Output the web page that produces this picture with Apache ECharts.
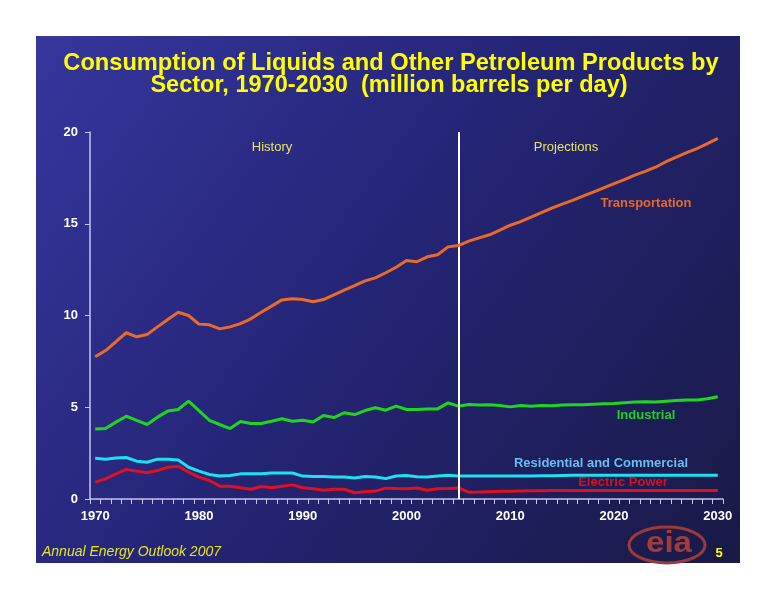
<!DOCTYPE html>
<html>
<head>
<meta charset="utf-8">
<script src="https://cdn.jsdelivr.net/npm/echarts@6/dist/echarts.min.js"></script>
<style>
html,body{margin:0;padding:0;background:#ffffff;}
#chart{width:776px;height:600px;}
</style>
</head>
<body>
<div id="chart"></div>
<script>
// ---- data ----
var years = [];
for (var y = 1970; y <= 2030; y++) years.push(String(y));

var transportation = [
  7.75, 8.09, 8.57, 9.06, 8.84, 8.96, 9.38, 9.78, 10.18, 10.0,
  9.53, 9.49, 9.27, 9.38, 9.56, 9.82, 10.18, 10.51, 10.85, 10.91,
  10.87, 10.75, 10.87, 11.13, 11.38, 11.63, 11.89, 12.05, 12.33, 12.63,
  13.0, 12.93, 13.2, 13.31, 13.74, 13.81, 14.05, 14.23, 14.4, 14.65,
  14.92, 15.12, 15.36, 15.6, 15.85, 16.07, 16.27, 16.5, 16.72, 16.96,
  17.19, 17.41, 17.65, 17.85, 18.08, 18.38, 18.63, 18.87, 19.1, 19.37,
  19.65
];
var industrial = [
  3.82, 3.84, 4.19, 4.51, 4.29, 4.06, 4.46, 4.79, 4.88, 5.33,
  4.82, 4.29, 4.06, 3.84, 4.22, 4.11, 4.11, 4.24, 4.37, 4.24,
  4.29, 4.2, 4.55, 4.44, 4.7, 4.6, 4.82, 4.97, 4.84, 5.06,
  4.88, 4.88, 4.9, 4.91, 5.24, 5.06, 5.15, 5.12, 5.13, 5.1,
  5.02, 5.1, 5.06, 5.1, 5.08, 5.12, 5.13, 5.13, 5.17, 5.19,
  5.2, 5.24, 5.28, 5.3, 5.28, 5.33, 5.37, 5.39, 5.4, 5.46,
  5.57
];
var residential = [
  2.22, 2.17, 2.24, 2.26, 2.06, 2.0, 2.17, 2.17, 2.13, 1.73,
  1.52, 1.34, 1.25, 1.28, 1.37, 1.37, 1.37, 1.42, 1.42, 1.42,
  1.25, 1.22, 1.22, 1.2, 1.2, 1.15, 1.22, 1.2, 1.11, 1.25,
  1.28, 1.21, 1.2, 1.25, 1.3, 1.26, 1.25, 1.25, 1.25, 1.25,
  1.25, 1.26, 1.26, 1.27, 1.27, 1.28, 1.29, 1.3, 1.3, 1.3,
  1.3, 1.3, 1.3, 1.3, 1.3, 1.3, 1.3, 1.3, 1.3, 1.3,
  1.3
];
var electric = [
  0.92, 1.1, 1.37, 1.61, 1.52, 1.43, 1.55, 1.73, 1.79, 1.46,
  1.19, 1.01, 0.7, 0.7, 0.61, 0.53, 0.68, 0.61, 0.7, 0.77,
  0.61, 0.56, 0.48, 0.53, 0.53, 0.34, 0.39, 0.43, 0.59, 0.57,
  0.56, 0.6, 0.48, 0.56, 0.57, 0.6, 0.37, 0.38, 0.4, 0.42,
  0.42, 0.44, 0.45, 0.45, 0.46, 0.46, 0.46, 0.46, 0.46, 0.46,
  0.46, 0.46, 0.46, 0.46, 0.46, 0.46, 0.46, 0.46, 0.46, 0.46,
  0.46
];
var yTicks = [0, 5, 10, 15, 20];
var divideYear = '2005';

var titleLine1 = 'Consumption of Liquids and Other Petroleum Products by';
var titleLine2 = 'Sector, 1970-2030  (million barrels per day)';

var chart = echarts.init(document.getElementById('chart'), null, {renderer: 'canvas'});

var lineStyle = function (c) { return {color: c, width: 3}; };
var FF = '"Liberation Sans", Arial, Helvetica, sans-serif';

chart.setOption({
  backgroundColor: '#ffffff',
  animation: false,
  graphic: [
    {
      type: 'rect', z: -10, silent: true,
      shape: {x: 36, y: 36, width: 704, height: 527},
      style: {
        fill: new echarts.graphic.LinearGradient(0, 0, 1, 1, [
          {offset: 0, color: '#36369e'},
          {offset: 0.45, color: '#252578'},
          {offset: 1, color: '#191946'}
        ])
      }
    },
    {
      type: 'text', x: 391, y: 63.5, scaleX: 0.985, z: 10,
      style: {text: titleLine1, fill: '#ffff00', align: 'center', verticalAlign: 'middle', font: 'bold 24px ' + FF}
    },
    {
      type: 'text', x: 389, y: 85, scaleX: 0.98, z: 10,
      style: {text: titleLine2, fill: '#ffff00', align: 'center', verticalAlign: 'middle', font: 'bold 24px ' + FF}
    },
    {type: 'text', x: 272, y: 147, style: {text: 'History', fill: '#e6e660', align: 'center', verticalAlign: 'middle', font: '13px ' + FF}},
    {type: 'text', x: 566, y: 147, style: {text: 'Projections', fill: '#e6e660', align: 'center', verticalAlign: 'middle', font: '13px ' + FF}},
    {type: 'text', x: 646, y: 203, style: {text: 'Transportation', fill: '#e36a2c', align: 'center', verticalAlign: 'middle', font: 'bold 13px ' + FF}},
    {type: 'text', x: 646, y: 415, style: {text: 'Industrial', fill: '#22d022', align: 'center', verticalAlign: 'middle', font: 'bold 13px ' + FF}},
    {type: 'text', x: 601, y: 463, style: {text: 'Residential and Commercial', fill: '#66bff0', align: 'center', verticalAlign: 'middle', font: 'bold 13px ' + FF}},
    {type: 'text', x: 623, y: 482, style: {text: 'Electric Power', fill: '#d8101c', align: 'center', verticalAlign: 'middle', font: 'bold 13px ' + FF}},
    {type: 'text', x: 42, y: 552, style: {text: 'Annual Energy Outlook 2007', fill: '#e6e620', align: 'left', verticalAlign: 'middle', font: 'italic 14px ' + FF}},
    {type: 'text', x: 719, y: 553, style: {text: '5', fill: '#ffff00', align: 'center', verticalAlign: 'middle', font: 'bold 13px ' + FF}},
    {type: 'ellipse', shape: {cx: 667, cy: 545, rx: 38, ry: 18}, style: {fill: 'none', stroke: '#9c3a3a', lineWidth: 3}},
    {type: 'text', x: 669, y: 544, scaleX: 1.1, style: {text: 'eia', fill: '#a23c3c', align: 'center', verticalAlign: 'middle', font: 'bold 30px ' + FF}}
  ],
  grid: {left: 90, top: 132, width: 633, height: 367, containLabel: false},
  xAxis: {
    type: 'category',
    data: years,
    boundaryGap: true,
    axisLine: {lineStyle: {color: '#c4c4ee', width: 1.5}},
    axisTick: {show: true, interval: 0, length: 5, lineStyle: {color: '#c4c4ee'}},
    axisLabel: {interval: 9, color: '#ffffff', fontWeight: 'bold', fontSize: 13, fontFamily: FF, margin: 11},
    splitLine: {show: false}
  },
  yAxis: {
    type: 'value',
    min: yTicks[0], max: yTicks[yTicks.length - 1], interval: 5,
    axisLine: {show: true, lineStyle: {color: '#c4c4ee', width: 1.5}},
    axisTick: {show: true, length: 5, lineStyle: {color: '#c4c4ee'}},
    axisLabel: {color: '#ffffff', fontWeight: 'bold', fontSize: 13, fontFamily: FF, margin: 12},
    splitLine: {show: false}
  },
  series: [
    {
      name: 'Transportation', type: 'line', data: transportation, symbol: 'none',
      lineStyle: lineStyle('#ea6a2a'), z: 5,
      markLine: {
        silent: true, symbol: 'none', label: {show: false},
        lineStyle: {color: '#ffffff', width: 2, type: 'solid'},
        data: [{xAxis: divideYear}]
      }
    },
    {name: 'Industrial', type: 'line', data: industrial, symbol: 'none', lineStyle: lineStyle('#1ed61e'), z: 4},
    {name: 'Residential and Commercial', type: 'line', data: residential, symbol: 'none', lineStyle: lineStyle('#1ee0f0'), z: 3},
    {name: 'Electric Power', type: 'line', data: electric, symbol: 'none', lineStyle: lineStyle('#e0101e'), z: 2}
  ]
});
</script>
</body>
</html>
